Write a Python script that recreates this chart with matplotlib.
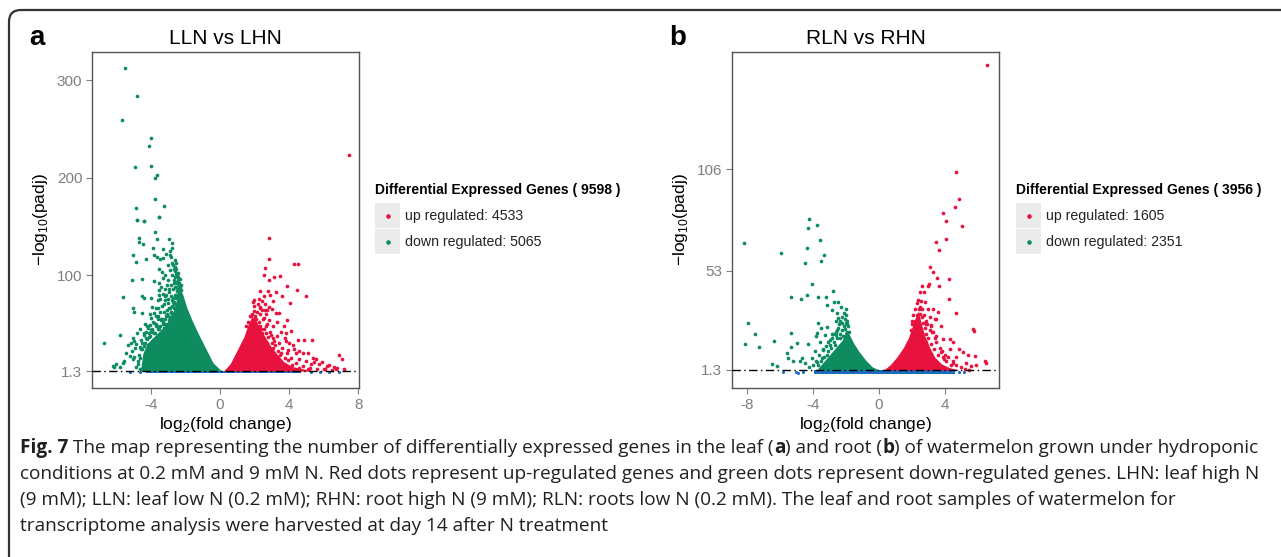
import matplotlib
matplotlib.use("Agg")
import matplotlib.pyplot as plt
from matplotlib.patches import FancyBboxPatch, Rectangle
from matplotlib.lines import Line2D
from matplotlib.transforms import IdentityTransform

plt.rcParams['font.family'] = ['Liberation Sans', 'DejaVu Sans']
plt.rcParams['mathtext.fontset'] = 'custom'
plt.rcParams['mathtext.rm'] = 'Liberation Sans'
plt.rcParams['axes.unicode_minus'] = False

W, H = 1281, 557
RED = '#e8123f'
GREEN = '#0e8c60'
BLUE = '#1c6cc4'

# ---- panel a : LLN vs LHN ----
a_title = 'LLN vs LHN'
a_xticks = [-4, 0, 4, 8]
a_yticks = [1.3, 100, 200, 300]
a_ytick_labels = ['1.3', '100', '200', '300']
a_counts = (9598, 4533, 5065)

# dense part of the clouds (upper envelope above the 1.3 threshold)
a_down_core_x = [-4.6, -4.45, -4.2, -3.8, -3.4, -3.0, -2.7, -2.45, -2.3, -2.15, -1.9, -1.6, -1.2, -0.8, -0.4, 0.1]
a_down_core_y = [2, 20, 30, 37, 44, 53, 63, 78, 86, 80, 66, 53, 38, 24, 10, 1.3]
a_up_core_x = [0.2, 0.6, 1.0, 1.4, 1.65, 1.85, 2.05, 2.3, 2.6, 2.9, 3.3, 3.7, 4.2, 5.0, 5.6]
a_up_core_y = [1.3, 9, 23, 37, 50, 57, 55, 46, 37, 28, 19, 11, 6, 3, 1.5]
a_ns_x = [-4.3, 4.7]
a_ns_lo = [-1.0, -1.0]

a_down_x = [-5.49, -4.81, -5.66, -3.96, -4.13, -4.89, -3.96, -3.65, -3.75, -3.73, -3.21, -4.85,
            -3.5, -4.79, -4.37, -4.79, -4.37, -3.5, -3.76, -4.7, -4.67, -4.43, -3.66, -2.95,
            -2.75, -2.75, -3.3, -3.88, -5.04, -4.85, -4.3, -3.84, -3.65, -3.45, -3.27, -2.88,
            -2.76, -2.63, -2.53, -3.5, -3.34, -5.08, -4.5, -3.82, -3.3, -3.07, -2.44, -2.24,
            -5.58, -4.5, -4.37, -3.98, -5.04, -4.95, -4.5, -3.79, -3.6, -3.2, -3.0, -2.75,
            -3.4, -3.82, -4.17, -4.37, -5.78, -6.68, -5.14, -4.95, -4.85, -5.42, -5.23, -5.04,
            -4.95, -5.52, -6.0, -6.18, -4.56, -4.75, -6.14,
            -3.5, -3.3, -2.95, -2.53, -3.6, -2.85, -3.05, -3.9, -3.6, -2.53, -2.44, -2.63,
            -2.95, -3.26, -3.7, -4.03,
            -2.4, -2.5, -2.45, -2.6, -2.7, -2.62, -2.8, -2.55, -2.65, -2.75, -2.9, -3.0,
            -2.85, -2.95, -3.1, -3.2, -3.35, -3.45, -3.6, -3.9, -4.1, -4.3, -4.5, -4.65,
            -4.2, -4.0, -3.7, -3.55, -3.4, -3.15, -3.0, -2.35, -2.25, -2.5, -2.7, -2.9,
            -3.1, -3.3,
            -4.55, -4.4, -4.25, -4.1, -3.95, -3.8, -3.65, -3.5, -3.35, -3.2, -3.05, -2.9,
            -2.8, -2.65, -2.55, -2.45, -2.4, -2.35, -2.5, -2.6, -2.7, -2.8, -3.0, -3.25,
            -3.45, -3.7, -3.85, -4.05, -4.35, -4.6, -4.8, -5.0, -4.9, -5.1, -5.3, -4.7,
            -5.6, -5.8, -3.15, -3.55, -2.62, -2.58, -2.68, -2.48, -2.52, -2.9, -3.1,
            -4.5, -4.35, -4.2, -4.05, -3.9, -3.75, -3.6, -3.45, -3.3, -3.15, -3.0, -2.85,
            -2.75, -2.65, -2.55, -2.45, -2.38, -2.32, -2.42, -2.55, -2.28, -4.4, -4.0, -3.7,
            -3.4, -3.25, -2.95, -2.72, -2.62, -2.58, -4.15, -3.85, -3.55, -3.15, -2.95, -2.8,
            -4.6, -4.75, -4.85, -4.65]
a_down_y = [313, 283.6, 259, 240.3, 232, 210.5, 212, 203, 200, 177.7, 171.3, 169.3,
            160, 156.2, 155.1, 156, 155, 160, 144, 138, 134, 132, 137, 137,
            133, 127.8, 127, 128, 120.9, 113.4, 116.7, 121, 118.5, 116, 117, 121,
            112, 106.6, 101.5, 106.6, 103, 94.5, 95.5, 94, 97, 90, 95, 90,
            77.6, 78, 76, 76, 65.9, 62.5, 60.8, 60.8, 66, 78, 71, 74.4,
            54, 50.8, 45.7, 40.6, 38.9, 30.5, 30.6, 32, 29.6, 20.3, 17, 13.6,
            16, 12, 8.6, 7, 23.7, 8.6, 5.7,
            84.6, 81, 83, 88, 74.4, 60.8, 64, 67.6, 57.5, 78, 71, 66,
            54, 45.7, 47.4, 49,
            85, 92, 98, 104, 110, 115, 118, 88, 95, 100, 105, 95,
            90, 86, 80, 74, 68, 62, 55, 44, 40, 35, 30, 26,
            48, 56, 66, 80, 88, 100, 110, 82, 85, 78, 72, 66,
            58, 52,
            33, 38, 42, 36, 45, 40, 48, 45, 55, 50, 60, 56,
            62, 70, 76, 72, 80, 90, 84, 80, 86, 78, 75, 70,
            75, 58, 52, 60, 50, 45, 40, 35, 25, 22, 28, 18,
            10, 6, 86, 92, 108, 98, 92, 100, 112, 125, 122,
            24, 30, 34, 37, 41, 40, 45, 48, 50, 55, 58, 62,
            68, 72, 80, 86, 92, 96, 102, 106, 88, 27, 44, 50,
            55, 62, 66, 76, 88, 93, 28, 33, 38, 45, 50, 57,
            15, 12, 6, 4]

a_up_x = [7.46, 2.86, 2.86, 4.27, 4.52, 2.61, 2.53, 3.15, 3.5, 2.86, 3.89, 4.45,
          5.0, 2.3, 2.78, 3.23, 2.92, 3.6, 2.24, 2.42, 2.6, 3.1, 4.08, 2.86,
          2.3, 3.25, 3.44, 1.8, 2.57, 2.86, 3.9, 2.67, 3.05, 3.73, 4.1, 2.96,
          3.3, 3.8, 3.15, 3.83, 4.54, 4.89, 5.33, 4.25, 3.93, 4.4, 4.83, 5.1,
          4.6, 4.99, 5.47, 5.76, 6.2, 6.9, 7.08, 6.6, 5.56, 5.27,
          1.85, 1.95, 2.05, 2.15, 2.0, 1.9, 2.3, 2.5, 2.7, 2.4, 2.9, 3.1,
          3.4, 3.6, 3.9, 4.1, 4.4, 4.8, 5.2, 5.6, 6.0, 6.5, 2.2, 2.45,
          2.65, 2.75, 6.8, 7.2,
          1.5, 1.65, 1.75, 1.95, 2.1, 2.25, 2.35, 2.55, 2.65, 2.8, 3.0, 3.2,
          3.35, 3.55, 3.75, 3.95, 4.2, 4.6, 5.1, 2.15, 2.45, 2.75, 3.05, 3.45,
          1.8, 2.6, 2.35, 2.0, 1.9, 2.55, 3.0, 3.3, 3.55, 3.75, 4.0, 4.3,
          4.6, 5.4, 5.9, 6.3, 6.1, 6.7]
a_up_y = [222.8, 138, 116.9, 111.7, 111, 107.4, 100.5, 97.5, 99, 94.4, 88.4, 84.7,
          78, 84, 83.4, 82.4, 80, 78, 75, 73, 70.7, 73, 71.4, 67,
          67, 60.8, 60.8, 57.5, 55.8, 54, 53.5, 47.4, 48, 47.4, 42.3, 38.9,
          37.2, 40.6, 32, 32, 33.7, 33.7, 33.7, 28.6, 23.5, 20, 20, 20,
          13.3, 11.6, 10.9, 8.2, 6.5, 17.4, 13.3, 5.5, 13.3, 8.2,
          60, 63, 58, 62, 68, 55, 60, 55, 50, 45, 42, 35,
          30, 25, 20, 15, 10, 7, 5, 4, 3, 2.5, 70, 64,
          60, 64, 5, 3,
          48, 52, 58, 52, 55, 52, 48, 45, 40, 36, 30, 28,
          22, 20, 15, 13, 8, 5, 3, 45, 40, 30, 25, 18,
          45, 64, 66, 74, 72, 78, 65, 52, 42, 35, 30, 24,
          22, 15, 11, 8, 4, 3]
a_ns_px = [5.3, 5.8, 6.3, 6.9, -4.6, -5.2]
a_ns_py = [0.5, 0.8, 0.4, 0.6, 0.3, 0.5]

# ---- panel b : RLN vs RHN ----
b_title = 'RLN vs RHN'
b_xticks = [-8, -4, 0, 4]
b_yticks = [1.3, 53, 106]
b_ytick_labels = ['1.3', '53', '106']
b_counts = (3956, 1605, 2351)

b_down_core_x = [-3.7, -3.3, -2.9, -2.5, -2.2, -2.0, -1.8, -1.5, -1.2, -0.8, -0.4, 0.0]
b_down_core_y = [2, 6, 10, 14, 17, 22, 20, 15, 11, 6.5, 3, 1.3]
b_up_core_x = [0.3, 0.7, 1.1, 1.5, 1.8, 2.0, 2.2, 2.4, 2.6, 2.8, 3.1, 3.4, 3.8, 4.3, 4.8]
b_up_core_y = [1.3, 4, 8, 13, 18, 23, 28, 32, 25, 19, 13, 8, 4.5, 2.5, 1.5]
b_ns_x = [-3.9, 4.6]
b_ns_lo = [-1.0, -1.0]

b_down_x = [-8.2, -5.92, -4.2, -4.26, -3.72, -3.56, -4.36, -3.31, -3.49, -4.48, -4.06, -2.77,
            -5.33, -4.69, -4.32, -3.66, -3.19, -2.69, -2.48, -3.11, -2.85, -2.55, -2.44, -2.34,
            -3.66, -2.04, -1.94, -7.9, -7.53, -8.1, -7.25, -6.38, -5.33, -5.31, -4.97, -5.58,
            -5.52, -5.22, -4.77, -4.63, -4.3, -3.86, -3.76, -3.8, -3.49, -3.15, -3.56, -3.27,
            -2.85, -3.07, -2.97, -2.81, -2.57, -2.36, -2.63, -3.35, -3.15, -3.45, -3.76, -4.06,
            -6.48, -6.2,
            -2.1, -2.0, -1.95, -2.2, -2.35, -2.5, -2.7, -2.9, -3.1, -3.3, -3.5, -3.7,
            -2.05, -2.0, -2.15, -1.8, -2.45, -2.6,
            -1.85, -1.9, -2.0, -2.1, -2.25, -2.4, -2.55, -2.75, -2.95, -3.2, -3.4, -3.6,
            -3.8, -4.0, -4.2, -4.5, -2.3, -2.6, -2.2]
b_down_y = [67.3, 62, 79.8, 75.4, 76.6, 69, 64.9, 61, 57.9, 57.3, 45.9, 42.6,
            39.1, 38.2, 40.3, 39.4, 39.1, 36.5, 36.7, 35.1, 32.7, 31, 28.3, 26.6,
            26, 22.8, 21, 25.9, 20.1, 14.6, 13.5, 16.3, 20.7, 13.4, 15.6, 10.4,
            7.6, 6, 6, 7.6, 14.6, 11.4, 20.5, 18.8, 23.1, 23.8, 16, 19.5,
            17.8, 16, 14.3, 20.3, 19.5, 17.8, 14.3, 11.7, 9.1, 7.4, 5.4, 7.4,
            4.4, 3.3,
            24, 26, 25, 22, 20, 18, 16, 13, 11, 8, 6, 4,
            28, 30, 19, 21, 23, 21,
            24, 27, 33, 31, 26, 25, 22, 20, 17, 14, 12, 9,
            6, 4, 3, 5, 34, 27, 29]

b_up_x = [6.59, 4.71, 4.87, 4.61, 3.9, 4.1, 5.07, 3.45, 4.06, 3.66, 3.11, 3.29,
          3.56, 4.28, 3.03, 3.01, 3.68, 2.75, 4.24, 2.83, 3.27, 2.42, 3.6, 4.71,
          2.48, 3.1, 3.5, 2.89, 3.19, 5.76, 3.25, 3.9, 4.3, 3.5, 5.11, 5.82,
          4.71, 3.8, 4.3, 3.99, 5.62, 5.88, 6.49, 5.25, 5.5, 4.5, 3.43, 3.7,
          2.69, 2.89, 2.48, 2.28, 2.18, 2.38, 6.47, 5.72,
          2.3, 2.5, 2.6, 2.7, 2.45, 2.2, 2.9, 3.0, 3.2, 3.35, 3.6, 3.9,
          4.1, 4.4, 2.05, 1.95, 2.65, 2.8, 3.1, 3.4,
          2.0, 2.1, 2.2, 2.3, 2.4, 2.55, 2.65, 2.75, 2.85, 2.95, 3.15, 3.3,
          3.5, 3.7, 3.85, 4.0, 4.2, 4.5, 4.7, 5.0, 5.3, 2.5, 2.6, 3.0,
          3.4, 3.8, 4.5, 4.9, 5.4]
b_up_y = [160.1, 104.3, 90.3, 86.4, 82.9, 78.9, 76.3, 68, 69.4, 63.6, 54.9, 52.3,
          49.3, 48.8, 46.1, 45, 45.2, 41.7, 38.2, 36.8, 33.3, 32.9, 31.5, 31.2,
          30.7, 29, 27.6, 25.5, 24.6, 21.4, 21, 17.5, 17.5, 15.8, 10.5, 8.4,
          7.9, 10.5, 12.3, 7.1, 3.6, 4, 4.9, 1.9, 1.4, 4.8, 5.6, 3,
          12.3, 15.8, 17.5, 21, 24.6, 28.1, 6.2, 22.6,
          30, 34, 29, 26, 25, 27, 20, 18, 15, 12, 9, 8,
          6, 4, 25, 22, 19, 23, 22, 18,
          27, 30, 33, 36, 38, 37, 33, 30, 27, 25, 24, 21,
          19, 13, 11, 9, 8, 6, 4, 3, 5, 42, 45, 33,
          28, 24, 16, 12, 9]
b_ns_px = [-4.6, -5.0, -2.1, -5.8, 4.9, 5.2, -4.9]
b_ns_py = [0.0, 0.2, 0.4, 0.3, 0.3, 0.2, -0.2]


def px(x, y):
    return x / W, 1 - y / H


fig = plt.figure(figsize=(W / 100, H / 100), dpi=100)
fig.patch.set_facecolor('white')

# outer rounded frame
frame = FancyBboxPatch((9, -30), 1320, 548 - 1 + 30, boxstyle='round,pad=0,rounding_size=12',
                       transform=IdentityTransform(), fill=False, edgecolor='#333333', lw=1.6)
fig.add_artist(frame)


def panel(left_px, letter, title, xlim, ylim, xticks, yticks, ylabels,
          down_core, up_core, ns, down_pts, up_pts, ns_pts, counts, leg_x):
    l, b = px(left_px, 388)
    ax = fig.add_axes([l, b, 267 / W, 336 / H])
    ax.set_xlim(*xlim)
    ax.set_ylim(*ylim)

    ax.fill_between(ns[0], ns[1], 1.3, color=BLUE, lw=0, zorder=2)
    ax.scatter(ns_pts[0], ns_pts[1], s=5, color=BLUE, lw=0, zorder=2)
    ax.fill_between(down_core[0], 1.3, down_core[1], color=GREEN, lw=0, zorder=3)
    ax.fill_between(up_core[0], 1.3, up_core[1], color=RED, lw=0, zorder=3)
    ax.scatter(down_pts[0], down_pts[1], s=7, color=GREEN, lw=0, zorder=4)
    ax.scatter(up_pts[0], up_pts[1], s=7, color=RED, lw=0, zorder=4)
    ax.axhline(1.3, color='black', lw=1.0, ls=(0, (6, 2.5, 1, 2.5)), zorder=5)

    ax.set_xticks(xticks)
    ax.set_yticks(yticks)
    ax.set_yticklabels(ylabels)
    ax.tick_params(colors='#7f7f7f', labelsize=11, length=4, width=0.8, pad=3)
    for s in ax.spines.values():
        s.set_color('#555555')
        s.set_linewidth(1.0)

    cx = left_px + 133.5
    fig.text(*px(cx, 38), title, ha='center', va='center', fontsize=15)
    fig.text(*px(left_px - 63, 38), letter, ha='left', va='center', fontsize=20, fontweight='bold')
    fig.text(*px(cx, 424), r'log$_\mathregular{2}$(fold change)', ha='center', va='center', fontsize=12.5)
    fig.text(*px(left_px - 52, 220), '\u2212log$_\mathregular{10}$(padj)', ha='center', va='center',
             fontsize=12.5, rotation=90)

    # legend
    total, up, down = counts
    fig.text(*px(leg_x, 190), 'Differential Expressed Genes ( %d )' % total, ha='left', va='center',
             fontsize=10, fontweight='bold')
    for i, (lab, col) in enumerate([('up regulated: %d' % up, RED), ('down regulated: %d' % down, GREEN)]):
        ytop = 203 + 26 * i
        x0, y0 = px(leg_x, ytop + 25)
        fig.add_artist(Rectangle((x0, y0), 25 / W, 25 / H, transform=fig.transFigure,
                                 facecolor='#ebebeb', edgecolor='none'))
        fig.add_artist(Line2D([px(leg_x + 12.5, 0)[0]], [px(0, ytop + 12.5)[1]], marker='o', ms=2.3,
                              color=col, lw=0, transform=fig.transFigure))
        fig.text(*px(leg_x + 30, ytop + 13), lab, ha='left', va='center', fontsize=10.2, color='#222222')
    return ax


panel(92, 'a', a_title, (-7.4, 8.05), (-16, 329), a_xticks, a_yticks, a_ytick_labels,
      (a_down_core_x, a_down_core_y), (a_up_core_x, a_up_core_y), (a_ns_x, a_ns_lo),
      (a_down_x, a_down_y), (a_up_x, a_up_y), (a_ns_px, a_ns_py), a_counts, 375)
panel(732, 'b', b_title, (-8.9, 7.3), (-8.1, 167), b_xticks, b_yticks, b_ytick_labels,
      (b_down_core_x, b_down_core_y), (b_up_core_x, b_up_core_y), (b_ns_x, b_ns_lo),
      (b_down_x, b_down_y), (b_up_x, b_up_y), (b_ns_px, b_ns_py), b_counts, 1016)

# caption with bold runs
caption = [
    [('Fig. 7', True), (' The map representing the number of differentially expressed genes in the leaf (', False),
     ('a', True), (') and root (', False), ('b', True), (') of watermelon grown under hydroponic', False)],
    [('conditions at 0.2 mM and 9 mM N. Red dots represent up-regulated genes and green dots represent '
      'down-regulated genes. LHN: leaf high N', False)],
    [('(9 mM); LLN: leaf low N (0.2 mM); RHN: root high N (9 mM); RLN: roots low N (0.2 mM). '
      'The leaf and root samples of watermelon for', False)],
    [('transcriptome analysis were harvested at day 14 after N treatment', False)],
]
renderer = fig.canvas.get_renderer()


def draw_caption(size):
    arts = []
    ends = []
    for i, line in enumerate(caption):
        x = 20
        for txt, bold in line:
            t = fig.text(*px(x, 448 + 26 * i), txt, ha='left', va='center', fontsize=size,
                         fontweight='bold' if bold else 'normal', color='#231f20',
                         family=['Open Sans', 'DejaVu Sans'])
            arts.append(t)
            x = t.get_window_extent(renderer).x1
        ends.append(x)
    return arts, ends


arts, ends = draw_caption(13)
# first caption line runs to the right margin
size = 13 * (1254 - 20) / (ends[0] - 20)
for t in arts:
    t.remove()
draw_caption(size)

fig.savefig('out.png', dpi=100)
